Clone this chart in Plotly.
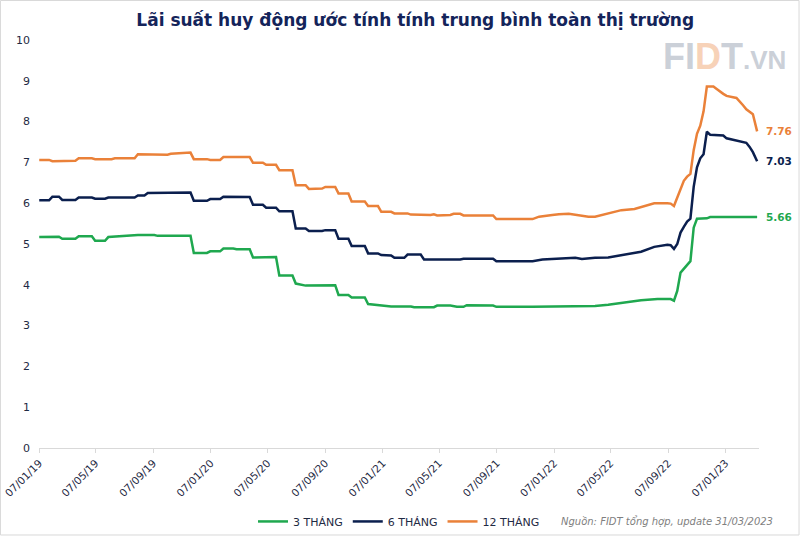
import plotly.graph_objects as go

# ---------------- data ----------------
x_3m = ["2019-01-07","2019-02-11","2019-02-18","2019-02-25","2019-03-25","2019-04-01","2019-04-29",
        "2019-05-06","2019-05-27","2019-06-03","2019-08-05","2019-09-09","2019-09-16","2019-11-25",
        "2019-12-02","2019-12-30","2020-01-06","2020-01-27","2020-02-03","2020-02-24","2020-03-02",
        "2020-03-30","2020-04-06","2020-05-25","2020-06-01","2020-06-29","2020-07-06","2020-07-27",
        "2020-09-28","2020-10-05","2020-10-26","2020-11-02","2020-11-30","2020-12-07","2020-12-28",
        "2021-01-25","2021-03-08","2021-03-15","2021-04-26","2021-05-03","2021-05-31","2021-06-14",
        "2021-06-28","2021-07-05","2021-08-30","2021-09-06","2021-11-22","2022-01-31","2022-04-04",
        "2022-05-02","2022-05-30","2022-07-11","2022-08-15","2022-09-12","2022-09-19","2022-09-26",
        "2022-10-03","2022-10-10","2022-10-17","2022-10-24","2022-10-31","2022-11-07","2022-11-28",
        "2022-12-05","2023-03-15"]
y_3m = [5.17,5.17,5.18,5.13,5.13,5.19,5.19,
        5.08,5.08,5.17,5.22,5.22,5.20,5.20,
        4.78,4.78,4.82,4.82,4.89,4.89,4.87,
        4.87,4.67,4.68,4.23,4.23,4.03,3.98,
        3.99,3.75,3.75,3.69,3.69,3.53,3.50,
        3.47,3.47,3.45,3.45,3.49,3.49,3.46,
        3.46,3.50,3.49,3.46,3.46,3.47,3.48,
        3.51,3.55,3.62,3.65,3.65,3.61,3.85,
        4.30,4.40,4.50,4.58,5.40,5.62,5.63,
        5.66,5.66]

x_6m = ["2019-01-07","2019-01-28","2019-02-04","2019-02-18","2019-02-25","2019-03-25","2019-04-01",
        "2019-04-29","2019-05-06","2019-05-27","2019-06-03","2019-07-29","2019-08-05","2019-08-19",
        "2019-08-26","2019-11-25","2019-12-02","2019-12-30","2020-01-06","2020-01-27","2020-02-03",
        "2020-02-24","2020-03-02","2020-03-30","2020-04-06","2020-04-27","2020-05-04","2020-05-25",
        "2020-06-01","2020-06-29","2020-07-06","2020-07-27","2020-08-03","2020-08-31","2020-09-07",
        "2020-09-28","2020-10-05","2020-10-26","2020-11-02","2020-11-30","2020-12-07","2020-12-28",
        "2021-01-04","2021-01-25","2021-02-01","2021-02-22","2021-03-01","2021-03-29","2021-04-05",
        "2021-06-21","2021-06-28","2021-08-30","2021-09-06","2021-11-22","2021-12-13","2022-01-31",
        "2022-02-21","2022-03-07","2022-04-04","2022-05-02","2022-05-30","2022-07-11","2022-08-08",
        "2022-09-05","2022-09-12","2022-09-19","2022-09-26","2022-10-03","2022-10-10","2022-10-17",
        "2022-10-24","2022-10-31","2022-11-07","2022-11-14","2022-11-21","2022-11-28","2022-12-05",
        "2022-12-26","2023-01-02","2023-01-09","2023-02-06","2023-02-20","2023-02-27","2023-03-06",
        "2023-03-15"]
y_6m = [6.07,6.07,6.16,6.16,6.08,6.08,6.14,
        6.14,6.11,6.11,6.14,6.14,6.19,6.19,
        6.25,6.26,6.06,6.06,6.10,6.10,6.16,
        6.16,6.15,6.15,5.96,5.96,5.89,5.89,
        5.80,5.80,5.38,5.38,5.32,5.32,5.34,
        5.34,5.13,5.13,4.95,4.95,4.77,4.77,
        4.73,4.72,4.66,4.66,4.74,4.74,4.62,
        4.62,4.64,4.64,4.58,4.58,4.62,4.66,
        4.66,4.63,4.66,4.67,4.73,4.81,4.93,
        4.98,4.97,4.88,5.00,5.28,5.42,5.55,
        5.62,6.40,6.88,7.10,7.20,7.75,7.68,
        7.67,7.66,7.59,7.52,7.48,7.38,7.25,
        7.03]

x_12m = ["2019-01-07","2019-01-28","2019-02-04","2019-03-25","2019-04-01","2019-04-29","2019-05-06",
         "2019-06-10","2019-06-17","2019-07-29","2019-08-05","2019-08-19","2019-08-26","2019-10-07",
         "2019-10-14","2019-11-04","2019-11-11","2019-11-25","2019-12-02","2019-12-30","2020-01-06",
         "2020-01-27","2020-02-03","2020-03-30","2020-04-06","2020-04-27","2020-05-04","2020-05-25",
         "2020-06-01","2020-06-29","2020-07-06","2020-07-27","2020-08-03","2020-08-31","2020-09-07",
         "2020-09-28","2020-10-05","2020-10-26","2020-11-02","2020-11-30","2020-12-07","2020-12-28",
         "2021-01-04","2021-01-25","2021-02-01","2021-03-01","2021-03-08","2021-04-19","2021-04-26",
         "2021-05-03","2021-05-31","2021-06-07","2021-06-21","2021-06-28","2021-08-30","2021-09-06",
         "2021-11-22","2021-12-06","2022-01-03","2022-01-17","2022-02-07","2022-02-28","2022-03-21",
         "2022-04-04","2022-05-16","2022-05-30","2022-06-27","2022-07-25","2022-08-08","2022-09-05",
         "2022-09-12","2022-09-19","2022-09-26","2022-10-03","2022-10-10","2022-10-17","2022-10-24",
         "2022-10-31","2022-11-07","2022-11-14","2022-11-21","2022-11-28","2022-12-12","2022-12-19",
         "2022-12-26","2023-01-02","2023-01-09","2023-01-30","2023-02-13","2023-02-20","2023-03-06",
         "2023-03-15"]
y_12m = [7.06,7.06,7.03,7.04,7.10,7.10,7.08,
         7.08,7.10,7.10,7.20,7.20,7.19,7.19,
         7.21,7.22,7.24,7.24,7.08,7.08,7.06,
         7.06,7.13,7.13,6.99,6.99,6.94,6.94,
         6.81,6.81,6.44,6.44,6.35,6.36,6.40,
         6.40,6.24,6.24,6.04,6.04,5.93,5.93,
         5.79,5.79,5.75,5.75,5.72,5.71,5.73,
         5.70,5.71,5.74,5.74,5.70,5.70,5.61,
         5.61,5.67,5.71,5.73,5.74,5.70,5.67,
         5.67,5.78,5.83,5.86,5.96,6.00,6.00,
         5.99,5.93,6.15,6.38,6.55,6.65,6.72,
         7.30,7.70,7.90,8.25,8.86,8.86,8.80,
         8.73,8.68,8.63,8.58,8.40,8.30,8.18,
         7.76]

series_names = ["3 THÁNG", "6 THÁNG", "12 THÁNG"]
end_labels = ["5.66", "7.03", "7.76"]

tick_dates = ["2019-01-07","2019-05-07","2019-09-07","2020-01-07","2020-05-07","2020-09-07",
              "2021-01-07","2021-05-07","2021-09-07","2022-01-07","2022-05-07","2022-09-07",
              "2023-01-07"]
tick_labels = ["07/01/19","07/05/19","07/09/19","07/01/20","07/05/20","07/09/20",
               "07/01/21","07/05/21","07/09/21","07/01/22","07/05/22","07/09/22",
               "07/01/23"]
y_ticks = [0,1,2,3,4,5,6,7,8,9,10]

# ---------------- styling ----------------
GREEN = "#1FA84F"
NAVY = "#0B1F4E"
ORANGE = "#EA8139"
TEXT = "#1F2A44"
FONT = "DejaVu Sans"

fig = go.Figure()
for xs, ys, name, col in [(x_3m, y_3m, series_names[0], GREEN),
                          (x_6m, y_6m, series_names[1], NAVY),
                          (x_12m, y_12m, series_names[2], ORANGE)]:
    fig.add_trace(go.Scatter(x=xs, y=ys, mode="lines", name=name,
                             line=dict(color=col, width=2.5)))

# end-of-line value labels
for xs, ys, lab, col in [(x_3m, y_3m, end_labels[0], GREEN),
                         (x_6m, y_6m, end_labels[1], NAVY),
                         (x_12m, y_12m, end_labels[2], ORANGE)]:
    fig.add_annotation(x=xs[-1], y=ys[-1], text="<b>%s</b>" % lab, showarrow=False,
                       xanchor="left", yanchor="middle", xshift=7,
                       font=dict(family=FONT, size=10.5, color=col))

# source note
fig.add_annotation(xref="paper", yref="paper", x=1.022, y=-0.18, xanchor="right", yanchor="middle",
                   text="<i>Nguồn: FIDT tổng hợp, update 31/03/2023</i>", showarrow=False,
                   font=dict(family=FONT, size=10, color="#7F7F7F"))

# watermark logo
fig.add_annotation(xref="paper", yref="paper", x=1.040, y=0.960, xanchor="right", yanchor="middle",
                   text="<b>FI<span style='color:#F7D2B8'>D</span>T<span style='font-size:26px'>.VN</span></b>",
                   showarrow=False, font=dict(family="Liberation Sans", size=36, color="#CBD0D8"))

# outer light border of the picture
fig.add_shape(type="rect", xref="paper", yref="paper", x0=-0.0535, x1=1.0556, y0=-0.2132, y1=1.0968,
              line=dict(color="#D9D9D9", width=1), fillcolor="rgba(0,0,0,0)", layer="below")

fig.update_layout(
    width=800, height=536,
    margin=dict(l=39, r=41, t=40, b=88, autoexpand=False),
    paper_bgcolor="white", plot_bgcolor="white",
    font=dict(family=FONT, size=11, color=TEXT),
    title=dict(text="<b>Lãi suất huy động ước tính tính trung bình toàn thị trường</b>",
               x=0.519, xanchor="center", y=0.963, yanchor="middle", yref="container",
               font=dict(family=FONT, size=17, color="#14245A")),
    showlegend=True,
    legend=dict(orientation="h", x=0.5, xanchor="center", y=-0.18, yanchor="middle",
                font=dict(family=FONT, size=11, color=TEXT), itemwidth=30,
                bgcolor="rgba(0,0,0,0)"),
    xaxis=dict(type="date", range=["2019-01-06 12:00", "2023-03-19"], automargin=False,
               tickvals=tick_dates, ticktext=tick_labels, tickangle=-45,
               ticklabeloverflow="allow",
               showgrid=False, zeroline=False, showline=True, linecolor="#D9D9D9", linewidth=1,
               ticks="outside", ticklen=4, tickcolor="#D9D9D9",
               tickfont=dict(family=FONT, size=10.5, color=TEXT)),
    yaxis=dict(range=[0, 10], tickvals=y_ticks, showgrid=False, zeroline=False, showline=False,
               ticks="", ticklabelstandoff=8, automargin=False,
               tickfont=dict(family=FONT, size=11, color=TEXT)),
)

fig.write_html("out.html", config={"displayModeBar": False},
               post_script="document.body.style.margin='0';")
